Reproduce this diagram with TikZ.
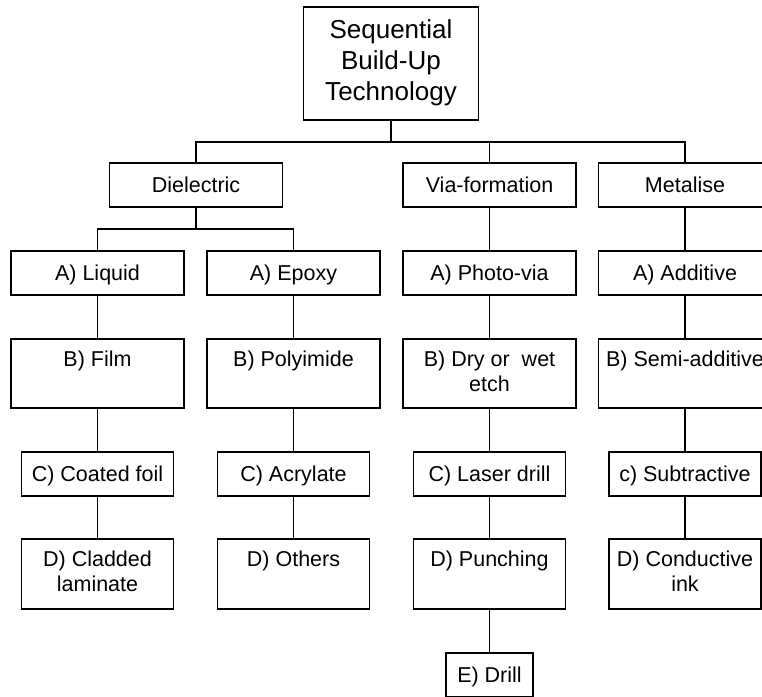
\documentclass[tikz,border=0pt]{standalone}
\usepackage{fontspec}
\setmainfont{Liberation Sans}
\newcommand\strA{\rule[-5.5pt]{0pt}{25pt}}
\newcommand\strB{\rule[-7pt]{0pt}{28pt}}
\begin{document}
\begin{tikzpicture}[x=1pt,y=-1pt,
  box/.style={draw, line width=1.3pt, rectangle, inner sep=0pt, outer sep=0pt,
    align=center, font=\fontsize{21.5pt}{25pt}\selectfont,
    execute at begin node=\strA, execute at end node=\strA},
  wide/.style={minimum width=173pt},
  narrow/.style={minimum width=152pt},
  low/.style={minimum height=44pt},
  tall/.style={minimum height=69pt},
  link/.style={line width=1.3pt}]
\clip (0,0) rectangle (762,696);
\fill[white] (0,0) rectangle (762,696);
\coordinate (bus) at (0,142);
\coordinate (dbus) at (0,229);

\node[draw, line width=1.3pt, inner sep=0pt, outer sep=0pt, align=center,
  minimum width=175pt, minimum height=113pt,
  font=\fontsize{26pt}{31.2pt}\selectfont,
  execute at begin node=\strB, execute at end node=\strB]
  (top) at (391,63.5) {Sequential\\Build-Up\\Technology};

\node[box, wide, low] (diel) at (196,185) {Dielectric};
\node[box, wide, low] (via) at (489.5,185) {Via-formation};
\node[box, wide, low] (meta) at (685,185) {Metalise};

\node[box, wide, low] (liq) at (97.5,273) {A) Liquid};
\node[box, wide, low] (epo) at (293.5,273) {A) Epoxy};
\node[box, wide, tall] (film) at (97.5,373.5) {B) Film\\};
\node[box, wide, tall] (poly) at (293.5,373.5) {B) Polyimide\\};
\node[box, narrow, low] (coat) at (97.5,474) {C) Coated foil};
\node[box, narrow, low] (acry) at (293.5,474) {C) Acrylate};
\node[box, narrow, minimum height=70pt] (clad) at (97.5,574) {D) Cladded\\laminate};
\node[box, narrow, minimum height=70pt] (oth) at (293.5,574) {D) Others\\};

\node[box, wide, low] (photo) at (489.5,273) {A) Photo-via};
\node[box, wide, tall] (dry) at (489.5,373.5) {B) Dry or\ \ wet\\etch};
\node[box, narrow, low] (laser) at (489.5,474) {C) Laser drill};
\node[box, narrow, minimum height=70pt] (punch) at (489.5,574) {D) Punching\\};
\node[box, minimum width=87pt, low] (edrill) at (489.5,675) {E) Drill};

\node[box, wide, low] (add) at (685,273) {A) Additive};
\node[box, wide, tall] (semi) at (685,373.5) {B) Semi-additive\\};
\node[box, narrow, low] (sub) at (685,474) {c) Subtractive};
\node[box, narrow, minimum height=70pt] (cond) at (685,574) {D) Conductive\\ink};

\draw[link] (top.south) -- (top.south |- bus);
\draw[link] (diel.north) |- (bus -| meta.north) -- (meta.north);
\draw[link] (via.north) -- (via.north |- bus);

\draw[link] (diel.south) -- (diel.south |- dbus);
\draw[link] (liq.north) |- (dbus -| epo.north) -- (epo.north);

\draw[link] (liq) -- (film);
\draw[link] (film) -- (coat);
\draw[link] (coat) -- (clad);
\draw[link] (epo) -- (poly);
\draw[link] (poly) -- (acry);
\draw[link] (acry) -- (oth);

\draw[link] (via) -- (photo);
\draw[link] (photo) -- (dry);
\draw[link] (dry) -- (laser);
\draw[link] (laser) -- (punch);
\draw[link] (punch) -- (edrill);

\draw[link] (meta) -- (add);
\draw[link] (add) -- (semi);
\draw[link] (semi) -- (sub);
\draw[link] (sub) -- (cond);
\end{tikzpicture}
\end{document}
